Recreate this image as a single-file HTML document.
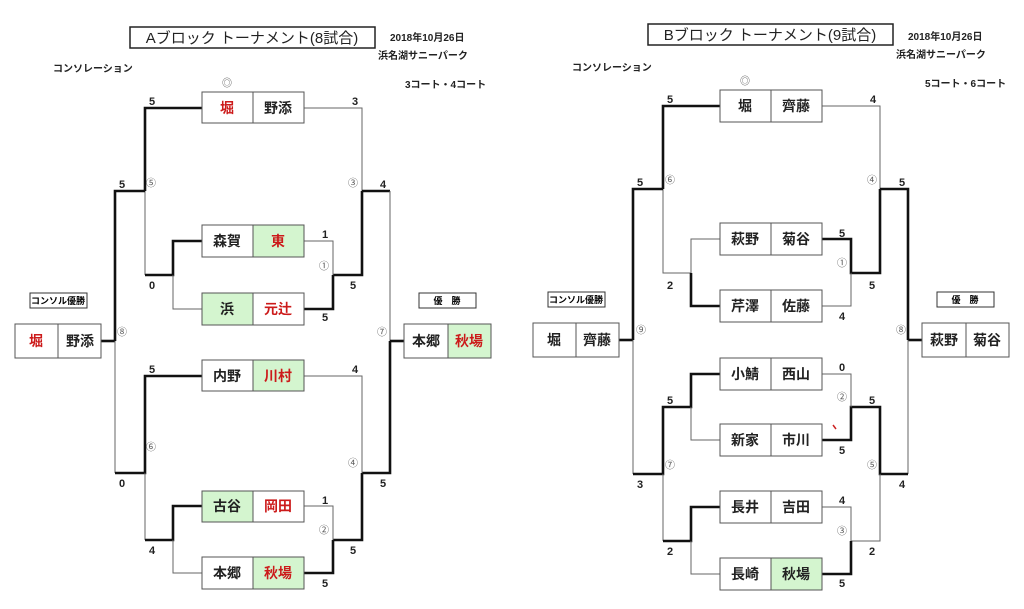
<!DOCTYPE html>
<html><head><meta charset="utf-8"><style>
body{margin:0;background:#fff;}
svg{display:block}
text{font-family:"Liberation Sans","Noto Sans CJK JP",sans-serif;}
.n{font-size:14px;font-weight:bold;fill:#222;text-anchor:middle;dominant-baseline:central}
.r{fill:#cc1a1a}
.s{font-size:11px;font-weight:bold;fill:#222;text-anchor:middle}
.c{font-size:10px;fill:#555;text-anchor:middle;dominant-baseline:central}
.sm{font-size:10px;font-weight:bold;fill:#222}
.T{stroke:#111;stroke-width:2.6;fill:none}
.t{stroke:#666;stroke-width:1;fill:none}
.b{stroke:#555;stroke-width:1;fill:#fff}
.g{fill:#d4f5cf}
</style></head><body>
<svg width="1024" height="609" viewBox="0 0 1024 609" xmlns="http://www.w3.org/2000/svg">
<!-- A block header -->
<rect x="130" y="27" width="245" height="21" fill="none" stroke="#222" stroke-width="1.5"/>
<text x="252" y="43" font-size="15" text-anchor="middle" fill="#222">Aブロック トーナメント(8試合)</text>
<text x="390" y="41" class="sm">2018年10月26日</text>
<text x="378" y="59" class="sm">浜名湖サニーパーク</text>
<text x="53" y="72" class="sm">コンソレーション</text>
<text x="405" y="88" class="sm">3コート・4コート</text>
<text x="227" y="84" class="c" fill="#222">◎</text>

<!-- A lines -->
<path class="T" d="M202,108 H145 V191"/><path class="t" d="M145,191 V275"/>
<path class="T" d="M145,275 H173 V241 H202"/><path class="t" d="M173,275 V309 H202"/>
<path class="T" d="M145,191 H115 V341"/><path class="T" d="M101,341 H115"/>
<path class="t" d="M115,341 V473"/><path class="T" d="M115,473 H145 V376 H202"/>
<path class="t" d="M145,473 V540"/><path class="T" d="M145,540 H173 V506 H202"/>
<path class="t" d="M173,540 V573 H202"/>
<path class="t" d="M304,108 H362 V191"/><path class="T" d="M362,191 V275 H333"/>
<path class="t" d="M304,241 H333 V275"/><path class="T" d="M333,275 V309 H304"/>
<path class="T" d="M362,191 H390"/><path class="t" d="M390,191 V341"/>
<path class="T" d="M390,341 V473 H362"/><path class="T" d="M390,341 H404"/>
<path class="t" d="M304,376 H362 V473"/><path class="T" d="M362,473 V540 H333"/>
<path class="t" d="M304,506 H333 V540"/><path class="T" d="M333,540 V573 H304"/>

<!-- A boxes -->
<g>
<rect class="b" x="202" y="92" width="51" height="31"/><rect class="b" x="253" y="92" width="51" height="31"/>
<text class="n r" x="227" y="108">堀</text><text class="n" x="278" y="108">野添</text>
<rect class="b" x="202" y="225" width="51" height="32"/><rect class="b g" x="253" y="225" width="51" height="32"/>
<text class="n" x="227" y="241">森賀</text><text class="n r" x="278" y="241">東</text>
<rect class="b g" x="202" y="293" width="51" height="32"/><rect class="b" x="253" y="293" width="51" height="32"/>
<text class="n" x="227" y="309">浜</text><text class="n r" x="278" y="309">元辻</text>
<rect class="b" x="202" y="360" width="51" height="31"/><rect class="b g" x="253" y="360" width="51" height="31"/>
<text class="n" x="227" y="376">内野</text><text class="n r" x="278" y="376">川村</text>
<rect class="b g" x="202" y="491" width="51" height="31"/><rect class="b" x="253" y="491" width="51" height="31"/>
<text class="n" x="227" y="506">古谷</text><text class="n r" x="278" y="506">岡田</text>
<rect class="b" x="202" y="557" width="51" height="32"/><rect class="b g" x="253" y="557" width="51" height="32"/>
<text class="n" x="227" y="573">本郷</text><text class="n r" x="278" y="573">秋場</text>
<rect class="b" x="15" y="324" width="43" height="34"/><rect class="b" x="58" y="324" width="43" height="34"/>
<text class="n r" x="36" y="341">堀</text><text class="n" x="80" y="341">野添</text>
<rect class="b" x="404" y="324" width="44" height="34"/><rect class="b g" x="448" y="324" width="43" height="34"/>
<text class="n" x="426" y="341">本郷</text><text class="n r" x="469" y="341">秋場</text>
<rect x="30" y="293" width="57" height="15" fill="none" stroke="#333"/>
<text x="58" y="304" font-size="9" font-weight="bold" text-anchor="middle">コンソル優勝</text>
<rect x="419" y="293" width="57" height="15" fill="none" stroke="#333"/>
<text x="447" y="304" font-size="9" font-weight="bold" text-anchor="middle">優　勝</text>
</g>
<!-- A scores -->
<g class="s">
<text x="152" y="105">5</text><text x="355" y="105">3</text>
<text x="122" y="188">5</text><text x="383" y="188">4</text>
<text x="325" y="238">1</text><text x="152" y="289">0</text><text x="353" y="289">5</text>
<text x="325" y="321">5</text><text x="152" y="373">5</text><text x="355" y="373">4</text>
<text x="122" y="487">0</text><text x="383" y="487">5</text>
<text x="325" y="504">1</text><text x="152" y="554">4</text><text x="353" y="554">5</text><text x="325" y="587">5</text>
</g>
<g class="c">
<text x="151" y="184">⑤</text><text x="353" y="184">③</text><text x="324" y="267">①</text>
<text x="122" y="333">⑧</text><text x="382" y="333">⑦</text><text x="151" y="448">⑥</text>
<text x="353" y="464">④</text><text x="324" y="531">②</text>
</g>

<!-- B block header -->
<rect x="648" y="24" width="245" height="21" fill="none" stroke="#222" stroke-width="1.5"/>
<text x="770" y="40" font-size="15" text-anchor="middle" fill="#222">Bブロック トーナメント(9試合)</text>
<text x="908" y="40" class="sm">2018年10月26日</text>
<text x="896" y="58" class="sm">浜名湖サニーパーク</text>
<text x="572" y="71" class="sm">コンソレーション</text>
<text x="925" y="87" class="sm">5コート・6コート</text>
<text x="745" y="82" class="c" fill="#222">◎</text>

<!-- B lines -->
<path class="T" d="M720,106 H663 V189"/><path class="t" d="M663,189 V273 H691"/>
<path class="t" d="M720,239 H691 V273"/><path class="T" d="M691,273 V306 H720"/>
<path class="T" d="M663,189 H633 V340"/><path class="T" d="M619,340 H633"/>
<path class="t" d="M633,340 V474"/><path class="T" d="M633,474 H663 V407 H691 V374 H720"/>
<path class="t" d="M691,407 V440 H720"/><path class="t" d="M663,474 V541"/>
<path class="T" d="M663,541 H691 V507 H720"/><path class="t" d="M691,541 V574 H720"/>
<path class="t" d="M822,106 H880 V189"/><path class="T" d="M880,189 V273 H851 V239 H822"/>
<path class="t" d="M851,273 V306 H822"/><path class="T" d="M880,189 H908 V340"/>
<path class="T" d="M908,340 H922"/><path class="t" d="M908,340 V474"/>
<path class="T" d="M908,474 H880 V407 H851 V440 H822"/><path class="t" d="M851,407 V374 H822"/>
<path class="t" d="M880,474 V541 H851 V507 H822"/><path class="T" d="M851,541 V574 H822"/>
<path d="M833,425 L836,429" stroke="#c22" stroke-width="1.5"/>

<!-- B boxes -->
<g>
<rect class="b" x="720" y="90" width="51" height="32"/><rect class="b" x="771" y="90" width="51" height="32"/>
<text class="n" x="745" y="106">堀</text><text class="n" x="796" y="106">齊藤</text>
<rect class="b" x="720" y="223" width="51" height="32"/><rect class="b" x="771" y="223" width="51" height="32"/>
<text class="n" x="745" y="239">萩野</text><text class="n" x="796" y="239">菊谷</text>
<rect class="b" x="720" y="290" width="51" height="32"/><rect class="b" x="771" y="290" width="51" height="32"/>
<text class="n" x="745" y="306">芹澤</text><text class="n" x="796" y="306">佐藤</text>
<rect class="b" x="720" y="358" width="51" height="32"/><rect class="b" x="771" y="358" width="51" height="32"/>
<text class="n" x="745" y="374">小鯖</text><text class="n" x="796" y="374">西山</text>
<rect class="b" x="720" y="424" width="51" height="32"/><rect class="b" x="771" y="424" width="51" height="32"/>
<text class="n" x="745" y="440">新家</text><text class="n" x="796" y="440">市川</text>
<rect class="b" x="720" y="491" width="51" height="32"/><rect class="b" x="771" y="491" width="51" height="32"/>
<text class="n" x="745" y="507">長井</text><text class="n" x="796" y="507">吉田</text>
<rect class="b" x="720" y="558" width="51" height="32"/><rect class="b g" x="771" y="558" width="51" height="32"/>
<text class="n" x="745" y="574">長崎</text><text class="n" x="796" y="574">秋場</text>
<rect class="b" x="533" y="323" width="43" height="34"/><rect class="b" x="576" y="323" width="43" height="34"/>
<text class="n" x="554" y="340">堀</text><text class="n" x="597" y="340">齊藤</text>
<rect class="b" x="922" y="323" width="44" height="34"/><rect class="b" x="966" y="323" width="43" height="34"/>
<text class="n" x="944" y="340">萩野</text><text class="n" x="987" y="340">菊谷</text>
<rect x="548" y="292" width="57" height="15" fill="none" stroke="#333"/>
<text x="576" y="303" font-size="9" font-weight="bold" text-anchor="middle">コンソル優勝</text>
<rect x="937" y="292" width="57" height="15" fill="none" stroke="#333"/>
<text x="965" y="303" font-size="9" font-weight="bold" text-anchor="middle">優　勝</text>
</g>
<g class="s">
<text x="670" y="103">5</text><text x="873" y="103">4</text>
<text x="640" y="186">5</text><text x="902" y="186">5</text>
<text x="842" y="237">5</text><text x="670" y="289">2</text><text x="872" y="289">5</text>
<text x="842" y="320">4</text><text x="842" y="371">0</text>
<text x="670" y="404">5</text><text x="872" y="404">5</text><text x="842" y="454">5</text>
<text x="640" y="488">3</text><text x="902" y="488">4</text>
<text x="842" y="504">4</text><text x="670" y="555">2</text><text x="872" y="555">2</text><text x="842" y="587">5</text>
</g>
<g class="c">
<text x="670" y="181">⑥</text><text x="872" y="181">④</text><text x="842" y="264">①</text>
<text x="641" y="331">⑨</text><text x="901" y="331">⑧</text><text x="842" y="398">②</text>
<text x="670" y="466">⑦</text><text x="872" y="466">⑤</text><text x="842" y="532">③</text>
</g>
</svg>
</body></html>
